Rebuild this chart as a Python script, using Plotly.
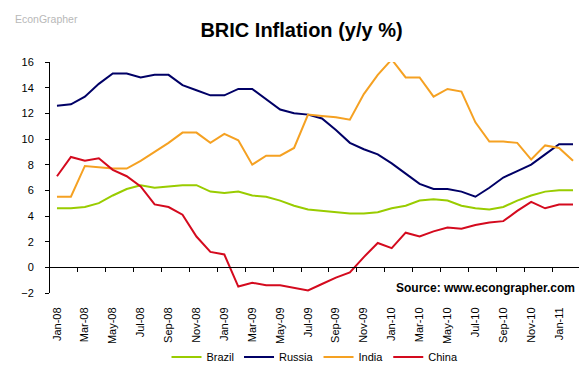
import plotly.graph_objects as go

months = ["Jan-08","Feb-08","Mar-08","Apr-08","May-08","Jun-08","Jul-08","Aug-08","Sep-08","Oct-08","Nov-08","Dec-08",
          "Jan-09","Feb-09","Mar-09","Apr-09","May-09","Jun-09","Jul-09","Aug-09","Sep-09","Oct-09","Nov-09","Dec-09",
          "Jan-10","Feb-10","Mar-10","Apr-10","May-10","Jun-10","Jul-10","Aug-10","Sep-10","Oct-10","Nov-10","Dec-10",
          "Jan-11","Feb-11"]

brazil = [4.6, 4.6, 4.7, 5.0, 5.6, 6.1, 6.4, 6.2, 6.3, 6.4, 6.4, 5.9,
          5.8, 5.9, 5.6, 5.5, 5.2, 4.8, 4.5, 4.4, 4.3, 4.2, 4.2, 4.3,
          4.6, 4.8, 5.2, 5.3, 5.2, 4.8, 4.6, 4.5, 4.7, 5.2, 5.6, 5.9,
          6.0, 6.0]
russia = [12.6, 12.7, 13.3, 14.3, 15.1, 15.1, 14.8, 15.0, 15.0, 14.2, 13.8, 13.4,
          13.4, 13.9, 13.9, 13.1, 12.3, 12.0, 11.9, 11.6, 10.7, 9.7, 9.2, 8.8,
          8.1, 7.3, 6.5, 6.1, 6.1, 5.9, 5.5, 6.2, 7.0, 7.5, 8.0, 8.8,
          9.6, 9.6]
india = [5.5, 5.5, 7.9, 7.8, 7.7, 7.7, 8.3, 9.0, 9.7, 10.5, 10.5, 9.7,
         10.4, 9.9, 8.0, 8.7, 8.7, 9.3, 11.9, 11.8, 11.7, 11.5, 13.5, 15.0,
         16.2, 14.8, 14.8, 13.3, 13.9, 13.7, 11.3, 9.8, 9.8, 9.7, 8.4, 9.5,
         9.3, 8.3]
china = [7.1, 8.6, 8.3, 8.5, 7.6, 7.1, 6.3, 4.9, 4.7, 4.1, 2.4, 1.2,
         1.0, -1.5, -1.2, -1.4, -1.4, -1.6, -1.8, -1.3, -0.8, -0.4, 0.8, 1.9,
         1.5, 2.7, 2.4, 2.8, 3.1, 3.0, 3.3, 3.5, 3.6, 4.4, 5.1, 4.6,
         4.9, 4.9]

series = [("Brazil", brazil, "#99CC00"),
          ("Russia", russia, "#000066"),
          ("India", india, "#F5A122"),
          ("China", china, "#D40A1E")]

FONT = "Arial, Liberation Sans, sans-serif"
idx = list(range(len(months)))
y_min, y_max = -2, 16

fig = go.Figure()
for name, vals, col in series:
    fig.add_trace(go.Scatter(x=idx, y=vals, mode="lines", name=name,
                             line=dict(color=col, width=2)))
# empty trace to host the category axis drawn at y=0
fig.add_trace(go.Scatter(x=[], y=[], xaxis="x2", showlegend=False, hoverinfo="skip"))

fig.update_layout(
    width=587, height=376,
    paper_bgcolor="white", plot_bgcolor="white",
    margin=dict(l=42, r=15, t=54, b=82),
    font=dict(family=FONT, color="black", size=11),
    title=dict(text="<b>BRIC Inflation (y/y %)</b>", x=0.5, xref="container",
               y=1 - 22 / 376, yref="container", yanchor="middle",
               font=dict(size=20, family=FONT, color="black")),
    showlegend=True,
    legend=dict(orientation="h", x=0.5, xanchor="center", y=-0.277, yanchor="middle",
                font=dict(size=11, family=FONT, color="black"), itemwidth=30,
                bgcolor="rgba(0,0,0,0)"),
    xaxis=dict(range=[-0.5, len(months) - 0.5], tickmode="array",
               tickvals=idx[::2], ticktext=months[::2], tickangle=-90,
               showline=False, showgrid=False, zeroline=False,
               ticks="outside", ticklen=9, tickcolor="rgba(0,0,0,0)",
               tickfont=dict(size=11, family=FONT, color="black")),
    xaxis2=dict(overlaying="x", anchor="free",
                position=(0 - y_min) / (y_max - y_min),
                range=[-0.5, len(months) - 0.5], tickmode="array",
                tickvals=[i + 1.5 for i in idx[::2]],
                showticklabels=False, showline=True, linecolor="black", linewidth=1,
                ticks="outside", ticklen=4, tickcolor="black",
                showgrid=False, zeroline=False),
    yaxis=dict(range=[y_min, y_max], tickmode="linear", tick0=-2, dtick=2,
               showline=True, linecolor="black", linewidth=1,
               ticks="outside", ticklen=4, tickcolor="black",
               ticklabelstandoff=9,
               showgrid=False, zeroline=False,
               tickfont=dict(size=11, family=FONT, color="black")),
    annotations=[
        dict(text="EconGrapher", xref="paper", yref="paper", x=-0.07, y=1.185,
             xanchor="left", yanchor="middle", showarrow=False,
             font=dict(size=10.5, family=FONT, color="#B8B8B8")),
        dict(text="<b>Source: www.econgrapher.com</b>", xref="paper", yref="paper",
             x=0.995, y=0.021, xanchor="right", yanchor="middle", showarrow=False,
             font=dict(size=12, family=FONT, color="black")),
    ],
)

fig.write_html("out.html")
